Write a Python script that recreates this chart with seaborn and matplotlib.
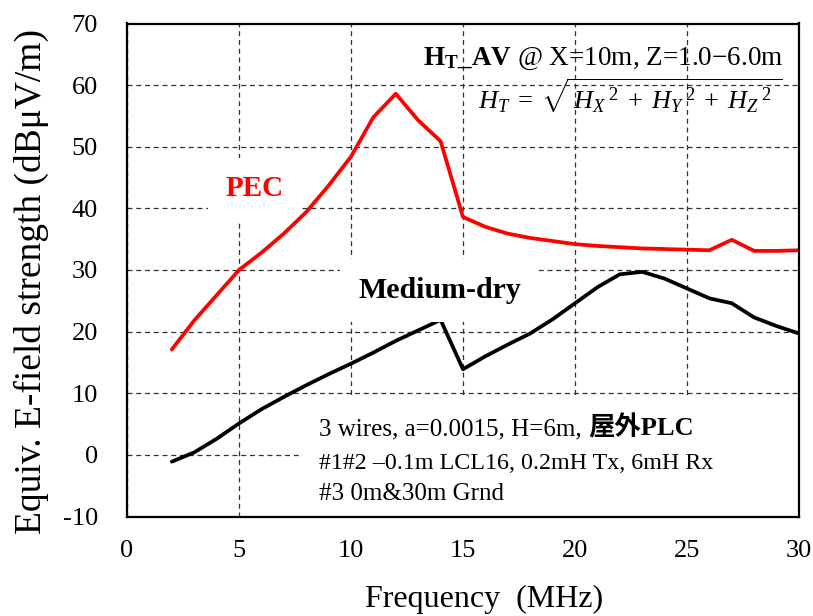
import numpy as np
import pandas as pd
import matplotlib
matplotlib.use("Agg")
import matplotlib.pyplot as plt
import seaborn as sns
from matplotlib.patches import Rectangle

freq_mhz = list(range(2, 31))
pec_db = [17.1, 21.8, 25.9, 30.0, 32.8, 35.9, 39.4, 43.7, 48.4, 54.8, 58.6, 54.3, 50.9,
          38.6, 37.0, 35.9, 35.2, 34.7, 34.2, 33.9, 33.7, 33.5, 33.4, 33.3, 33.2, 34.9,
          33.1, 33.1, 33.2]
medium_dry_db = [-1.1, 0.4, 2.6, 5.1, 7.4, 9.4, 11.3, 13.1, 14.8, 16.6, 18.5, 20.2, 21.9,
                 13.9, 16.0, 17.9, 19.7, 22.0, 24.6, 27.2, 29.3, 29.7, 28.6, 27.0, 25.4,
                 24.6, 22.3, 20.9, 19.7]
series_names = ["PEC", "Medium-dry"]
series_colors = ["#ff0000", "#000000"]
x_ticks = [0, 5, 10, 15, 20, 25, 30]
y_ticks = [-10, 0, 10, 20, 30, 40, 50, 60, 70]

sns.set_theme(style="white")
plt.rcParams["font.family"] = ["Liberation Serif", "Noto Sans CJK JP"]
plt.rcParams["mathtext.fontset"] = "custom"
plt.rcParams["mathtext.rm"] = "Liberation Serif"
plt.rcParams["mathtext.it"] = "Liberation Serif:italic"
plt.rcParams["mathtext.bf"] = "Liberation Serif:bold"
plt.rcParams["axes.unicode_minus"] = False

df = pd.DataFrame({
    "Frequency": freq_mhz * 2,
    "Value": pec_db + medium_dry_db,
    "Series": [series_names[0]] * len(freq_mhz) + [series_names[1]] * len(freq_mhz),
})

fig = plt.figure(figsize=(8.13, 6.16), dpi=100)
ax = fig.add_axes([127 / 813, 1 - 516.5 / 616, 672 / 813, 493 / 616])

sns.lineplot(data=df, x="Frequency", y="Value", hue="Series",
             palette=dict(zip(series_names, series_colors)), linewidth=2.7,
             legend=False, ax=ax, zorder=2)

ax.set_xlim(0, 30)
ax.set_ylim(-10, 70)
ax.set_xticks(x_ticks)
ax.set_yticks(y_ticks)
ax.set_xticklabels([str(t) for t in x_ticks])
ax.set_yticklabels([str(t) for t in y_ticks])
ax.tick_params(axis="both", length=0, labelsize=19, colors="black")
ax.tick_params(axis="x", pad=17)
ax.tick_params(axis="y", pad=21)
ax.grid(True, color="#333333", linestyle=(0, (4, 3)), linewidth=0.9)
ax.set_axisbelow(True)
for s in ax.spines.values():
    s.set_visible(True)
    s.set_color("black")
    s.set_linewidth(1.6)
    s.set_zorder(2.5)

ax.set_xlabel("Frequency  (MHz)", fontsize=23, color="black")
ax.xaxis.set_label_coords(0.531, -0.169)
ax.xaxis.label.set_va("center")
ax.set_ylabel("Equiv. E-field strength (dBμV/m)", fontsize=27, color="black")
ax.yaxis.set_label_coords(-0.143, 0.477)
ax.yaxis.label.set_va("center")

# series labels
ax.text(5.7, 43.2, "PEC", color="#ff0000", fontsize=21, fontweight="bold",
        ha="center", va="center",
        bbox=dict(boxstyle="square,pad=0.6", fc="white", ec="none"), zorder=1.5)
ax.text(13.95, 26.7, "Medium-dry", color="black", fontsize=21.5, fontweight="bold",
        ha="center", va="center",
        bbox=dict(boxstyle="square,pad=0.6", fc="white", ec="none"), zorder=3)

# top annotation
ax.text(0.976, 0.928, r"$\mathbf{H}_{\mathbf{T}}\mathbf{\_AV}$ @ X=10m, Z=1.0−6.0m",
        transform=ax.transAxes, fontsize=19.5, ha="right", va="center", color="black")
ax.text(0.522, 0.853,
        r"$H_T \;=\; \sqrt{\,{H_X}^{\;2} \;+\; {H_Y}^{\;2} \;+\; {H_Z}^{\;2}\;}$",
        transform=ax.transAxes, fontsize=19, ha="left", va="center", color="black")

# bottom info box
ax.add_patch(Rectangle((0.257, 0.0), 0.743, 0.24, transform=ax.transAxes,
                       fc="white", ec="none", zorder=2.3))
t1 = ax.text(0.286, 0.176, "3 wires, a=0.0015, H=6m, ", transform=ax.transAxes,
             fontsize=18, ha="left", va="center", color="black", zorder=2.4)
ax.annotate("屋外PLC", xy=(1, 0), xycoords=t1, fontsize=19, fontweight="bold",
            ha="left", va="bottom", color="black", zorder=2.4)
ax.text(0.286, 0.108, "#1#2 –0.1m LCL16, 0.2mH Tx, 6mH Rx", transform=ax.transAxes,
        fontsize=17.3, ha="left", va="center", color="black", zorder=2.4)
ax.text(0.286, 0.045, "#3 0m&30m Grnd", transform=ax.transAxes,
        fontsize=18, ha="left", va="center", color="black", zorder=2.4)

fig.savefig("out.png", dpi=100)
